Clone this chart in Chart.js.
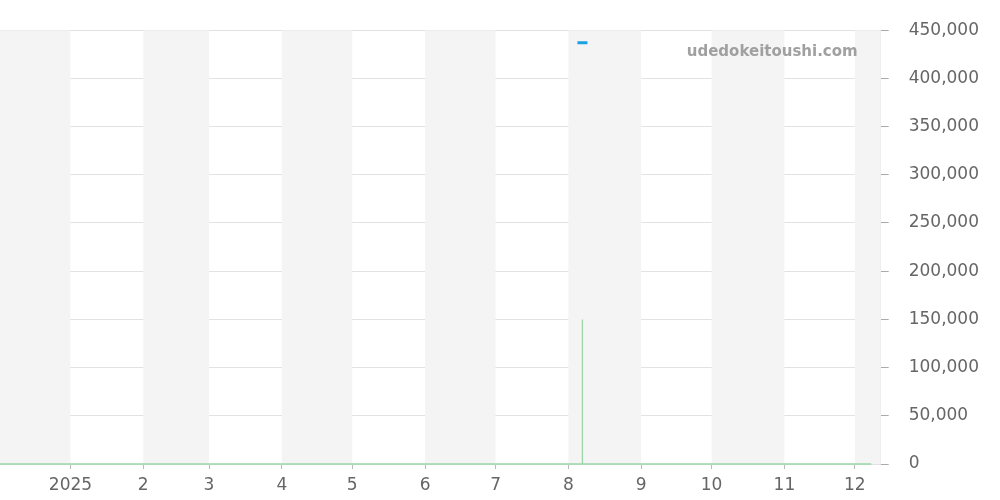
<!DOCTYPE html>
<html>
<head>
<meta charset="utf-8">
<script src="https://cdn.jsdelivr.net/npm/chart.js@4.4.1/dist/chart.umd.min.js"></script>
<style>
    html, body { margin: 0; padding: 0; background: #fff; }
    #wrap { width: 1000px; height: 500px; }
</style>
</head>
<body>
<div id="wrap"><canvas id="priceChart"></canvas></div>
<script>
// dates of the sampled prices and their values (yen)
const priceDates = [`2024-12-02`, `2024-12-20`, `2025-01-15`, `2025-02-10`, `2025-03-05`, `2025-04-01`, `2025-04-25`,
    `2025-05-20`, `2025-06-12`, `2025-07-08`, `2025-07-30`, `2025-08-07`, `2025-08-07`, `2025-08-07`,
    `2025-08-25`, `2025-09-20`, `2025-10-15`, `2025-11-10`, `2025-12-01`, `2025-12-08`];
const priceValues = [0, 0, 0, 0, 0, 0, 0, 0, 0, 0, 0, 0, 150000, 0, 0, 0, 0, 0, 0, 0];

// small blue marker near the top
const markerDates = [`2025-08-07`];
const markerValues = [437000];

// x axis: month starts and their labels
const monthStarts = [`2025-01-01`, `2025-02-01`, `2025-03-01`, `2025-04-01`, `2025-05-01`, `2025-06-01`,
    `2025-07-01`, `2025-08-01`, `2025-09-01`, `2025-10-01`, `2025-11-01`, `2025-12-01`];
const monthLabels = [`2025`, `2`, `3`, `4`, `5`, `6`, `7`, `8`, `9`, `10`, `11`, `12`];

// shaded months (start, end)
const shadedMonths = [[`2024-12-01`, `2025-01-01`], [`2025-02-01`, `2025-03-01`], [`2025-04-01`, `2025-05-01`],
    [`2025-06-01`, `2025-07-01`], [`2025-08-01`, `2025-09-01`], [`2025-10-01`, `2025-11-01`], [`2025-12-01`, `2026-01-01`]];

const yTicks = [0, 50000, 100000, 150000, 200000, 250000, 300000, 350000, 400000, 450000];

const rangeStart = `2024-12-02`;
const rangeEnd = `2025-12-12`;

// days since 2025-01-01
function toDay(iso) {
    const p = iso.split(`-`).map(Number);
    return (Date.UTC(p[0], p[1] - 1, p[2]) - Date.UTC(2025, 0, 1)) / 86400000;
}

const tickDays = monthStarts.map(toDay);

const bandPlugin = {
    id: `bands`,
    beforeDatasetsDraw(chart) {
        const ctx = chart.ctx;
        const area = chart.chartArea;
        const x = chart.scales.x;
        ctx.save();
        ctx.beginPath();
        ctx.rect(area.left, area.top, area.right - area.left, area.bottom - area.top);
        ctx.clip();
        ctx.fillStyle = `#f4f4f4`;
        shadedMonths.forEach(m => {
            const x0 = x.getPixelForValue(toDay(m[0]));
            const x1 = x.getPixelForValue(toDay(m[1]));
            ctx.fillRect(x0, area.top, x1 - x0, area.bottom - area.top);
        });
        ctx.restore();
    },
    afterDatasetsDraw(chart) {
        const ctx = chart.ctx;
        const area = chart.chartArea;
        ctx.save();
        ctx.font = `bold 15px "DejaVu Sans"`;
        ctx.fillStyle = `#a0a0a0`;
        ctx.textAlign = `right`;
        ctx.textBaseline = `middle`;
        ctx.fillText(`udedokeitoushi.com`, area.right - 23, area.top + 22);
        ctx.restore();
    }
};

const ctx = document.getElementById(`priceChart`).getContext(`2d`);
const chart = new Chart(ctx, {
    type: `line`,
    data: {
        datasets: [{
            data: priceDates.map((d, i) => ({ x: toDay(d), y: priceValues[i] })),
            borderColor: `#9ad6a8`,
            borderWidth: 1.3,
            pointRadius: 0,
            tension: 0,
            clip: 3
        }, {
            data: markerDates.map((d, i) => ({ x: toDay(d), y: markerValues[i] })),
            showLine: false,
            pointStyle: `line`,
            pointRadius: 5,
            borderColor: `#1a9fe0`,
            borderWidth: 3
        }]
    },
    plugins: [bandPlugin],
    options: {
        responsive: true,
        maintainAspectRatio: false,
        animation: false,
        layout: { autoPadding: false, padding: { top: 30, right: 1, left: 0, bottom: 0 } },
        plugins: { legend: { display: false }, tooltip: { enabled: false } },
        scales: {
            x: {
                type: `linear`,
                min: toDay(rangeStart),
                max: toDay(rangeEnd),
                afterBuildTicks: axis => { axis.ticks = tickDays.map(v => ({ value: v })); },
                afterFit: axis => { axis.paddingLeft = 0; axis.paddingRight = 0; axis.height = 36; },
                grid: { drawOnChartArea: false, drawTicks: true, tickLength: 5, color: `#bbb` },
                border: { display: false },
                ticks: {
                    autoSkip: false,
                    maxRotation: 0,
                    color: `#666`,
                    font: { family: `DejaVu Sans`, size: 17 },
                    padding: 6,
                    callback: value => monthLabels[tickDays.indexOf(value)]
                }
            },
            y: {
                position: `right`,
                min: 0,
                max: 450000,
                afterBuildTicks: axis => { axis.ticks = yTicks.map(v => ({ value: v })); },
                grid: { color: `#e2e2e2`, tickLength: 8, tickColor: `#aaa` },
                border: { display: true, color: `#e2e2e2` },
                ticks: {
                    color: `#666`,
                    font: { family: `DejaVu Sans`, size: 17 },
                    padding: 20,
                    callback: value => value.toLocaleString(`en-US`)
                }
            }
        }
    }
});
</script>
</body>
</html>
